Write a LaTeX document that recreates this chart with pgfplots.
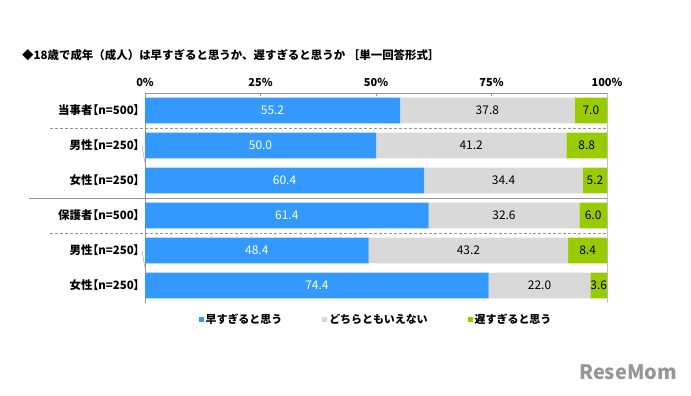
\documentclass[border=0pt]{standalone}
\usepackage{fontspec}
\setmainfont{Noto Sans CJK JP}
\newfontfamily\paltfont{Noto Sans CJK JP}[RawFeature=+palt]
\usepackage{pgfplots}
\usepackage{pgfplotstable}
\pgfplotsset{compat=1.18}
\definecolor{cblue}{RGB}{51,153,255}
\definecolor{cgray}{RGB}{217,217,217}
\definecolor{cgreen}{RGB}{153,204,0}
\definecolor{lgray}{RGB}{150,150,150}
\pgfplotstableread{
y a b c
5 55.2 37.8 7.0
4 50.0 41.2 8.8
3 60.4 34.4 5.2
2 61.4 32.6 6.0
1 48.4 43.2 8.4
0 74.4 22.0 3.6
}\data
\begin{document}
\begin{tikzpicture}[x=1bp,y=1bp]
\path[use as bounding box] (0,0) rectangle (691,-395);
\node[anchor=west,font=\fontsize{11.5}{12}\selectfont\bfseries,inner sep=0] at (22,-55) {◆18歳で成年（成人）は早すぎると思うか、遅すぎると思うか ［単一回答形式］};
\node[anchor=east,font=\fontsize{20}{22}\selectfont\bfseries,text=lgray,inner sep=0] at (677,-372) {ReseMom};
\begin{axis}[
  at={(145bp,-303bp)}, anchor=south west,
  width=462bp, height=210bp, scale only axis,
  xbar stacked, bar width=0.74,
  xmin=0, xmax=100, ymin=-0.5, ymax=5.5,
  axis line style={draw=none},
  xtick={0,25,50,75,100},
  xticklabels={0\%,25\%,50\%,75\%,100\%},
  xtick pos=right, xticklabel pos=right,
  tick align=inside,
  major tick length=3pt,
  xtick style={lgray, thin},
  ytick={0,1,2,3,4,5},
  yticklabels={女性【n=250】,男性【n=250】,保護者【n=500】,女性【n=250】,男性【n=250】,当事者【n=500】},
  ytick style={draw=none},
  ytick pos=left,
  tick label style={font=\fontsize{11}{12}\selectfont\bfseries},
  yticklabel style={xshift=-2pt, font=\paltfont\fontsize{11.5}{12}\selectfont\bfseries},
  xticklabel style={yshift=3pt},
  /pgf/number format/assume math mode=true,
  clip=false,
  legend columns=3,
  legend style={draw=none, at={(0.5,-0.04)}, anchor=north, font=\fontsize{11}{12}\selectfont\bfseries,
    /tikz/every even column/.append style={column sep=38bp}, inner sep=0pt},
  legend image code/.code={\fill[#1,draw=none] (0pt,-2.5pt) rectangle (5pt,2.5pt);},
  every node near coord/.append style={anchor=center, font=\fontsize{12}{12}\selectfont},
]
\addplot[fill=cblue, draw=none,
  visualization depends on={\thisrow{a} \as \val},
  nodes near coords={\pgfmathprintnumber[fixed,fixed zerofill,precision=1]{\val}},
  every node near coord/.append style={text=white}]
  table[x=a,y=y]{\data};
\addplot[fill=cgray, draw=none,
  visualization depends on={\thisrow{b} \as \val},
  nodes near coords={\pgfmathprintnumber[fixed,fixed zerofill,precision=1]{\val}},
  every node near coord/.append style={text=black}]
  table[x=b,y=y]{\data};
\addplot[fill=cgreen, draw=none,
  visualization depends on={\thisrow{c} \as \val},
  nodes near coords={\pgfmathprintnumber[fixed,fixed zerofill,precision=1]{\val}},
  every node near coord/.append style={text=black}]
  table[x=c,y=y]{\data};
\legend{早すぎると思う,どちらともいえない,遅すぎると思う}
\draw[lgray, thin] (axis cs:0,5.5) -- (axis cs:100,5.5);
\draw[lgray, thin] (axis cs:0,5.5) -- (axis cs:0,-0.5);
\draw[lgray!60, thin] (axis cs:100,5.5) -- (axis cs:100,-0.5);
\draw[lgray, thin, dash pattern=on 3pt off 2pt] (axis cs:-20.5,4.5) -- (axis cs:100,4.5);
\draw[lgray, thin, dash pattern=on 3pt off 2pt] (axis cs:-20.5,1.5) -- (axis cs:100,1.5);
\draw[lgray, thin] (axis cs:-25,2.5) -- (axis cs:100,2.5);
\draw[lgray, thin] (axis cs:0,3.5) -- ++(-3pt,0);
\draw[lgray, thin] (axis cs:0,0.5) -- ++(-3pt,0);
\end{axis}
\end{tikzpicture}
\end{document}
